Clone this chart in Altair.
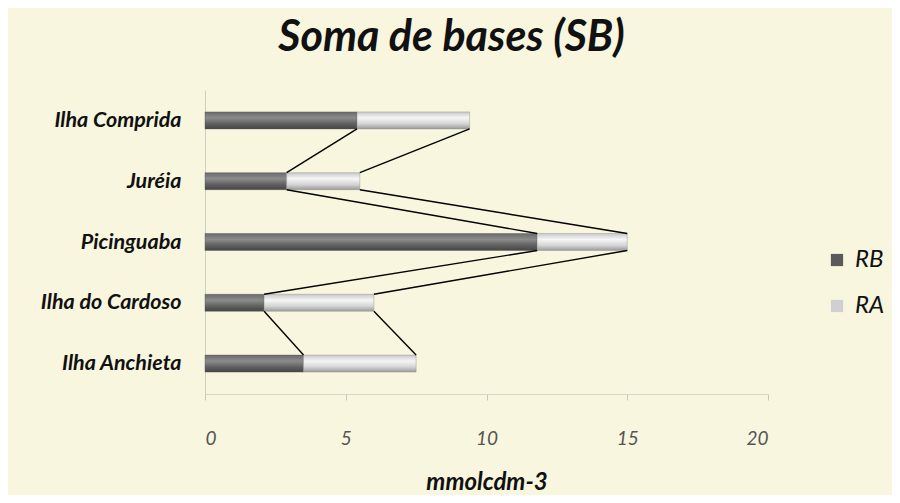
import altair as alt
import pandas as pd
import json

categories = ["Ilha Comprida", "Juréia", "Picinguaba", "Ilha do Cardoso", "Ilha Anchieta"]
rb_values = [5.4, 2.9, 11.8, 2.1, 3.5]
ra_values = [4.0, 2.6, 3.2, 3.9, 4.0]
x_ticks = [0, 5, 10, 15, 20]
series_names = ["RB", "RA"]

H = 0.14  # half bar thickness in category units

rows = []
for i, c in enumerate(categories):
    rows.append({"cat": c, "idx": i, "series": "RB", "x0": 0.0, "x1": rb_values[i]})
    rows.append({"cat": c, "idx": i, "series": "RA", "x0": rb_values[i], "x1": rb_values[i] + ra_values[i]})
bars = pd.DataFrame(rows)
bars["y0"] = bars["idx"] - H
bars["y1"] = bars["idx"] + H

lines = []
for i in range(len(categories) - 1):
    lines.append({"xa": rb_values[i], "ya": i + H, "xb": rb_values[i + 1], "yb": i + 1 - H})
    lines.append({"xa": rb_values[i] + ra_values[i], "ya": i + H,
                  "xb": rb_values[i + 1] + ra_values[i + 1], "yb": i + 1 - H})
lines = pd.DataFrame(lines)

label_expr = json.dumps(categories) + "[datum.value]"

xscale = alt.Scale(domain=[0, 20], nice=False)
yscale = alt.Scale(domain=[-0.5, 4.5], reverse=True, nice=False, zero=False)

xaxis = alt.Axis(values=x_ticks, title="mmolcdm-3", grid=False,
                 labelFont="Lato", labelFontStyle="italic", labelFontSize=19, labelColor="#555555",
                 labelPadding=29, domainColor="#d6d6c8", tickColor="#c8c8b8", tickSize=6,
                 titleFont="Lato", titleFontStyle="italic", titleFontWeight="bold",
                 titleFontSize=24, titleColor="#111111", titlePadding=22)
yaxis = alt.Axis(values=[0, 1, 2, 3, 4], labelExpr=label_expr, title=None, grid=False, ticks=False,
                 labelFont="Lato", labelFontStyle="italic", labelFontWeight="bold", labelFontSize=21.5,
                 labelColor="#111111", labelPadding=24, domainColor="#cfcfc0")

rb_grad = alt.LinearGradient(gradient="linear", x1=0, y1=0, x2=0, y2=1, stops=[
    alt.GradientStop(offset=0, color="#6a6a6a"),
    alt.GradientStop(offset=0.35, color="#8c8c8c"),
    alt.GradientStop(offset=0.7, color="#606060"),
    alt.GradientStop(offset=1, color="#454545")])
ra_grad = alt.LinearGradient(gradient="linear", x1=0, y1=0, x2=0, y2=1, stops=[
    alt.GradientStop(offset=0, color="#c8c8c8"),
    alt.GradientStop(offset=0.35, color="#f6f6f6"),
    alt.GradientStop(offset=0.7, color="#d4d4d4"),
    alt.GradientStop(offset=1, color="#9a9a9a")])

base = alt.Chart(bars)
enc = dict(
    x=alt.X("x0:Q", scale=xscale, axis=xaxis),
    x2="x1:Q",
    y=alt.Y("y0:Q", scale=yscale, axis=yaxis),
    y2="y1:Q",
)
rb_layer = base.transform_filter(alt.datum.series == "RB").mark_rect(
    fill=rb_grad, stroke="#555555", strokeWidth=0.4).encode(**enc)
ra_layer = base.transform_filter(alt.datum.series == "RA").mark_rect(
    fill=ra_grad, stroke="#8a8a8a", strokeWidth=0.4).encode(**enc)

legend_layer = base.mark_point(filled=True, opacity=0, shape="square").encode(
    x=alt.X("x0:Q", scale=xscale),
    y=alt.Y("idx:Q", scale=yscale),
    color=alt.Color("series:N", scale=alt.Scale(domain=series_names, range=["#5a5a5a", "#d0d0d0"]),
                    legend=alt.Legend(title=None, orient="none", legendX=620, legendY=158,
                                      symbolType="square", symbolSize=150, symbolOpacity=1,
                                      symbolStrokeWidth=0,
                                      labelFont="Lato", labelFontStyle="italic", labelFontSize=24,
                                      labelColor="#111111", rowPadding=22, labelOffset=6,
                                      padding=0)),
)

rules = alt.Chart(lines).mark_rule(color="#000000", strokeWidth=1.4).encode(
    x=alt.X("xa:Q", scale=xscale), x2="xb:Q",
    y=alt.Y("ya:Q", scale=yscale), y2="yb:Q",
)

chart = alt.layer(rb_layer, ra_layer, rules, legend_layer).properties(
    width=563, height=304,
    autosize=alt.AutoSizeParams(type="none"),
    padding={"left": 197, "top": 82, "right": 124, "bottom": 101},
    background="#f8f6de",
    title=alt.TitleParams("Soma de bases (SB)", font="Lato", fontStyle="italic", fontWeight="bold",
                          fontSize=43, color="#111111", dx=-35, offset=30, anchor="middle"),
).configure_view(stroke=None)

chart.save("out.html", embed_options={"renderer": "svg", "actions": False})
